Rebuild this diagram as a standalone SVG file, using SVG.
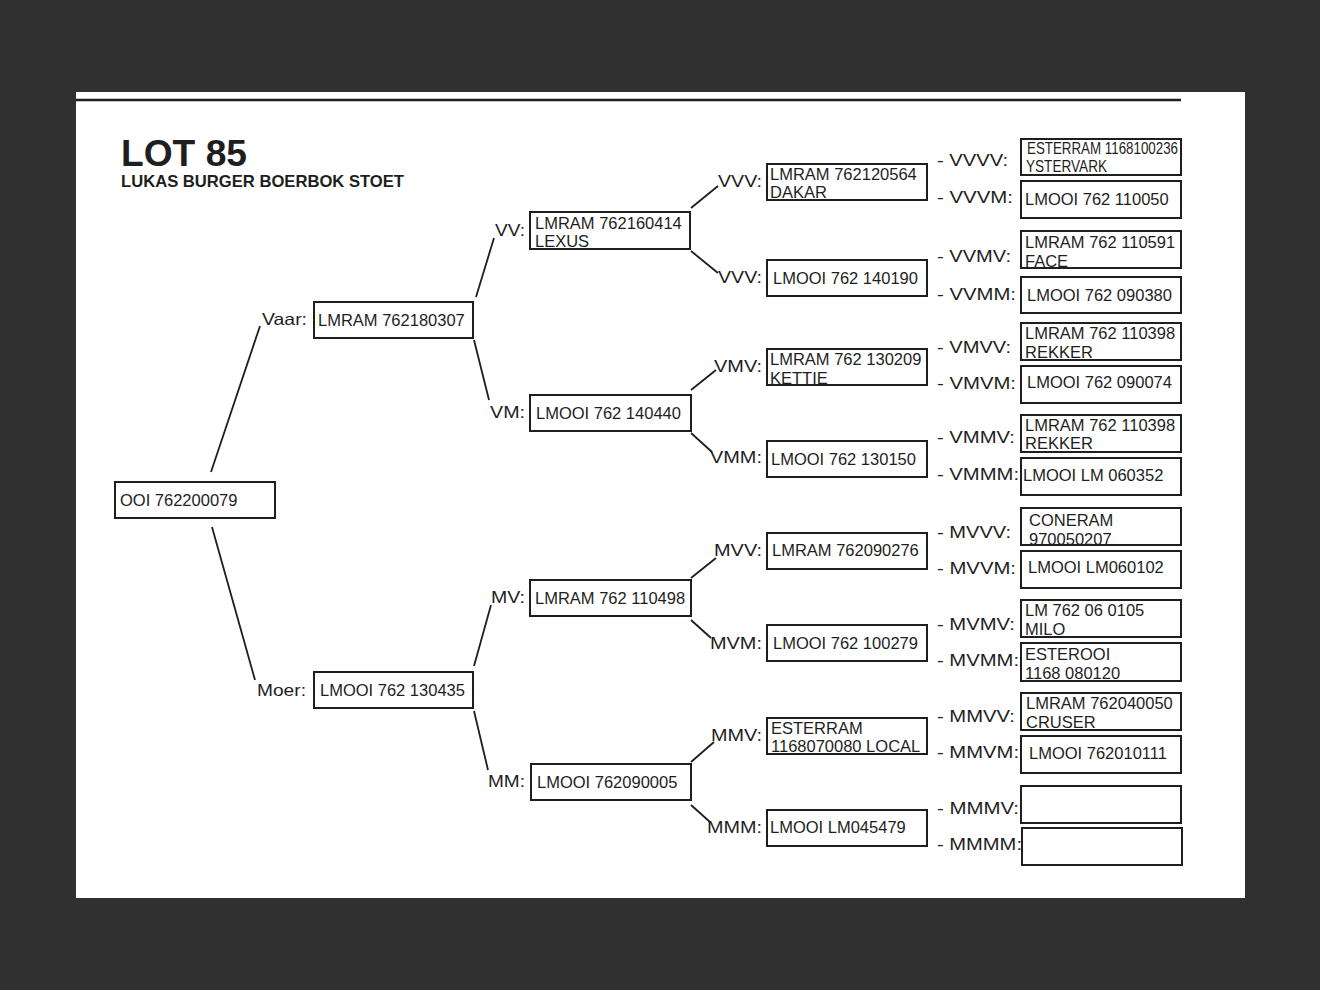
<svg xmlns="http://www.w3.org/2000/svg" width="1320" height="990" viewBox="0 0 1320 990">
<style>
.bx{fill:#fff;stroke:#1e1e1e;stroke-width:2}
.t{font-family:"Liberation Sans",Arial,sans-serif;font-size:16.5px;fill:#1e1e1e}
.lb{font-family:"Liberation Sans",Arial,sans-serif;font-size:16.5px;fill:#1e1e1e}
.c line{stroke:#1e1e1e;stroke-width:1.8}
</style>
<rect x="0" y="0" width="1320" height="990" fill="#303030"/>
<rect x="76" y="92" width="1169" height="806" fill="#fff"/>
<line x1="76" y1="100" x2="1181" y2="100" stroke="#1e1e1e" stroke-width="2.5"/>
<text x="121" y="166" font-family="Liberation Sans,Arial,sans-serif" font-weight="bold" font-size="36" fill="#1e1e1e" textLength="126" lengthAdjust="spacingAndGlyphs">LOT 85</text>
<text x="121" y="187" font-family="Liberation Sans,Arial,sans-serif" font-weight="bold" font-size="16.5" fill="#1e1e1e" textLength="283" lengthAdjust="spacingAndGlyphs">LUKAS BURGER BOERBOK STOET</text>

<g class="c" id="connectors">
<line x1="211" y1="472" x2="260" y2="326"/>
<line x1="212" y1="527" x2="255" y2="680"/>
<line x1="476" y1="297" x2="494" y2="238"/>
<line x1="474" y1="340" x2="489" y2="400"/>
<line x1="474" y1="666" x2="491" y2="605"/>
<line x1="474" y1="711" x2="488" y2="770"/>
<line x1="691" y1="208" x2="718" y2="186"/>
<line x1="691" y1="251" x2="718" y2="273"/>
<line x1="691" y1="390" x2="716" y2="370"/>
<line x1="691" y1="433" x2="712" y2="452"/>
<line x1="691" y1="578" x2="716" y2="558"/>
<line x1="691" y1="620" x2="711" y2="638"/>
<line x1="691" y1="762" x2="714" y2="742"/>
<line x1="691" y1="805" x2="710" y2="822"/>
</g>

<g id="root"><rect class="bx" x="115" y="482" width="160" height="36"/><text class="t" x="120" y="506">OOI 762200079</text></g>

<g id="vaar"><text class="lb" x="262" y="325" textLength="45" lengthAdjust="spacingAndGlyphs">Vaar:</text><rect class="bx" x="314" y="302" width="159" height="36"/><text class="t" x="318" y="326">LMRAM 762180307</text></g>
<g id="moer"><text class="lb" x="257" y="696" textLength="49" lengthAdjust="spacingAndGlyphs">Moer:</text><rect class="bx" x="314" y="672" width="159" height="36"/><text class="t" x="320" y="696">LMOOI 762 130435</text></g>

<g id="vv"><text class="lb" x="495" y="236" textLength="30" lengthAdjust="spacingAndGlyphs">VV:</text><rect class="bx" x="530" y="212" width="160" height="37"/><text class="t" x="535" y="229">LMRAM 762160414</text><text class="t" x="535" y="247">LEXUS</text></g>
<g id="vm"><text class="lb" x="490" y="418" textLength="35" lengthAdjust="spacingAndGlyphs">VM:</text><rect class="bx" x="530" y="395" width="161" height="36"/><text class="t" x="536" y="419">LMOOI 762 140440</text></g>
<g id="mv"><text class="lb" x="491" y="603" textLength="34" lengthAdjust="spacingAndGlyphs">MV:</text><rect class="bx" x="530" y="580" width="161" height="36"/><text class="t" x="535" y="604">LMRAM 762 110498</text></g>
<g id="mm"><text class="lb" x="488" y="787" textLength="37" lengthAdjust="spacingAndGlyphs">MM:</text><rect class="bx" x="531" y="764" width="160" height="36"/><text class="t" x="537" y="788">LMOOI 762090005</text></g>

<g id="vvv"><text class="lb" x="718" y="187" textLength="44" lengthAdjust="spacingAndGlyphs">VVV:</text><rect class="bx" x="767" y="164" width="160" height="36"/><text class="t" x="770" y="180">LMRAM 762120564</text><text class="t" x="770" y="198">DAKAR</text></g>
<g id="vvm"><text class="lb" x="718" y="283" textLength="44" lengthAdjust="spacingAndGlyphs">VVV:</text><rect class="bx" x="767" y="260" width="160" height="36"/><text class="t" x="773" y="284">LMOOI 762 140190</text></g>
<g id="vmv"><text class="lb" x="714" y="372" textLength="48" lengthAdjust="spacingAndGlyphs">VMV:</text><rect class="bx" x="767" y="349" width="160" height="36"/><text class="t" x="770" y="365">LMRAM 762 130209</text><text class="t" x="770" y="384">KETTIE</text></g>
<g id="vmm"><text class="lb" x="710" y="463" textLength="52" lengthAdjust="spacingAndGlyphs">VMM:</text><rect class="bx" x="767" y="441" width="160" height="36"/><text class="t" x="771" y="465">LMOOI 762 130150</text></g>
<g id="mvv"><text class="lb" x="714" y="556" textLength="48" lengthAdjust="spacingAndGlyphs">MVV:</text><rect class="bx" x="767" y="533" width="160" height="36"/><text class="t" x="772" y="556">LMRAM 762090276</text></g>
<g id="mvm"><text class="lb" x="710" y="649" textLength="52" lengthAdjust="spacingAndGlyphs">MVM:</text><rect class="bx" x="767" y="625" width="160" height="36"/><text class="t" x="773" y="649">LMOOI 762 100279</text></g>
<g id="mmv"><text class="lb" x="711" y="741" textLength="51" lengthAdjust="spacingAndGlyphs">MMV:</text><rect class="bx" x="767" y="718" width="160" height="36"/><text class="t" x="771" y="734">ESTERRAM</text><text class="t" x="771" y="752">1168070080 LOCAL</text></g>
<g id="mmm"><text class="lb" x="707" y="833" textLength="55" lengthAdjust="spacingAndGlyphs">MMM:</text><rect class="bx" x="767" y="810" width="160" height="36"/><text class="t" x="770" y="833">LMOOI LM045479</text></g>

<g id="vvvv"><text class="lb" x="937" y="166" textLength="71" lengthAdjust="spacingAndGlyphs">- VVVV:</text><rect class="bx" x="1021" y="139" width="160" height="36"/><text class="t" x="1027" y="154" font-size="15" textLength="151" lengthAdjust="spacingAndGlyphs">ESTERRAM 1168100236</text><text class="t" x="1026" y="172" font-size="15" textLength="81" lengthAdjust="spacingAndGlyphs">YSTERVARK</text></g>
<g id="vvvm"><text class="lb" x="937" y="203" textLength="76" lengthAdjust="spacingAndGlyphs">- VVVM:</text><rect class="bx" x="1021" y="181" width="160" height="37"/><text class="t" x="1025" y="205">LMOOI 762 110050</text></g>
<g id="vvmv"><text class="lb" x="937" y="262" textLength="74" lengthAdjust="spacingAndGlyphs">- VVMV:</text><rect class="bx" x="1021" y="231" width="160" height="37"/><text class="t" x="1025" y="248">LMRAM 762 110591</text><text class="t" x="1025" y="267">FACE</text></g>
<g id="vvmm"><text class="lb" x="937" y="300" textLength="79" lengthAdjust="spacingAndGlyphs">- VVMM:</text><rect class="bx" x="1021" y="277" width="160" height="36"/><text class="t" x="1027" y="301">LMOOI 762 090380</text></g>
<g id="vmvv"><text class="lb" x="937" y="353" textLength="74" lengthAdjust="spacingAndGlyphs">- VMVV:</text><rect class="bx" x="1021" y="323" width="160" height="37"/><text class="t" x="1025" y="339">LMRAM 762 110398</text><text class="t" x="1025" y="358">REKKER</text></g>
<g id="vmvm"><text class="lb" x="937" y="389" textLength="79" lengthAdjust="spacingAndGlyphs">- VMVM:</text><rect class="bx" x="1021" y="366" width="160" height="37"/><text class="t" x="1027" y="388">LMOOI 762 090074</text></g>
<g id="vmmv"><text class="lb" x="937" y="443" textLength="78" lengthAdjust="spacingAndGlyphs">- VMMV:</text><rect class="bx" x="1021" y="415" width="160" height="37"/><text class="t" x="1025" y="431">LMRAM 762 110398</text><text class="t" x="1025" y="449">REKKER</text></g>
<g id="vmmm"><text class="lb" x="937" y="480" textLength="82" lengthAdjust="spacingAndGlyphs">- VMMM:</text><rect class="bx" x="1021" y="458" width="160" height="37"/><text class="t" x="1023" y="481">LMOOI LM 060352</text></g>
<g id="mvvv"><text class="lb" x="937" y="538" textLength="74" lengthAdjust="spacingAndGlyphs">- MVVV:</text><rect class="bx" x="1021" y="508" width="160" height="37"/><text class="t" x="1029" y="526">CONERAM</text><text class="t" x="1029" y="545">970050207</text></g>
<g id="mvvm"><text class="lb" x="937" y="574" textLength="79" lengthAdjust="spacingAndGlyphs">- MVVM:</text><rect class="bx" x="1021" y="551" width="160" height="37"/><text class="t" x="1028" y="573">LMOOI LM060102</text></g>
<g id="mvmv"><text class="lb" x="937" y="630" textLength="78" lengthAdjust="spacingAndGlyphs">- MVMV:</text><rect class="bx" x="1021" y="600" width="160" height="37"/><text class="t" x="1025" y="616">LM 762 06 0105</text><text class="t" x="1025" y="635">MILO</text></g>
<g id="mvmm"><text class="lb" x="937" y="666" textLength="82" lengthAdjust="spacingAndGlyphs">- MVMM:</text><rect class="bx" x="1021" y="643" width="160" height="38"/><text class="t" x="1025" y="660">ESTEROOI</text><text class="t" x="1025" y="679">1168 080120</text></g>
<g id="mmvv"><text class="lb" x="937" y="722" textLength="78" lengthAdjust="spacingAndGlyphs">- MMVV:</text><rect class="bx" x="1021" y="693" width="160" height="37"/><text class="t" x="1026" y="709">LMRAM 762040050</text><text class="t" x="1026" y="728">CRUSER</text></g>
<g id="mmvm"><text class="lb" x="937" y="758" textLength="82" lengthAdjust="spacingAndGlyphs">- MMVM:</text><rect class="bx" x="1021" y="736" width="160" height="37"/><text class="t" x="1029" y="759">LMOOI 762010111</text></g>
<g id="mmmv"><text class="lb" x="937" y="814" textLength="82" lengthAdjust="spacingAndGlyphs">- MMMV:</text><rect class="bx" x="1021" y="786" width="160" height="37"/></g>
<g id="mmmm"><text class="lb" x="937" y="850" textLength="85" lengthAdjust="spacingAndGlyphs">- MMMM:</text><rect class="bx" x="1022" y="828" width="160" height="37"/></g>
</svg>
